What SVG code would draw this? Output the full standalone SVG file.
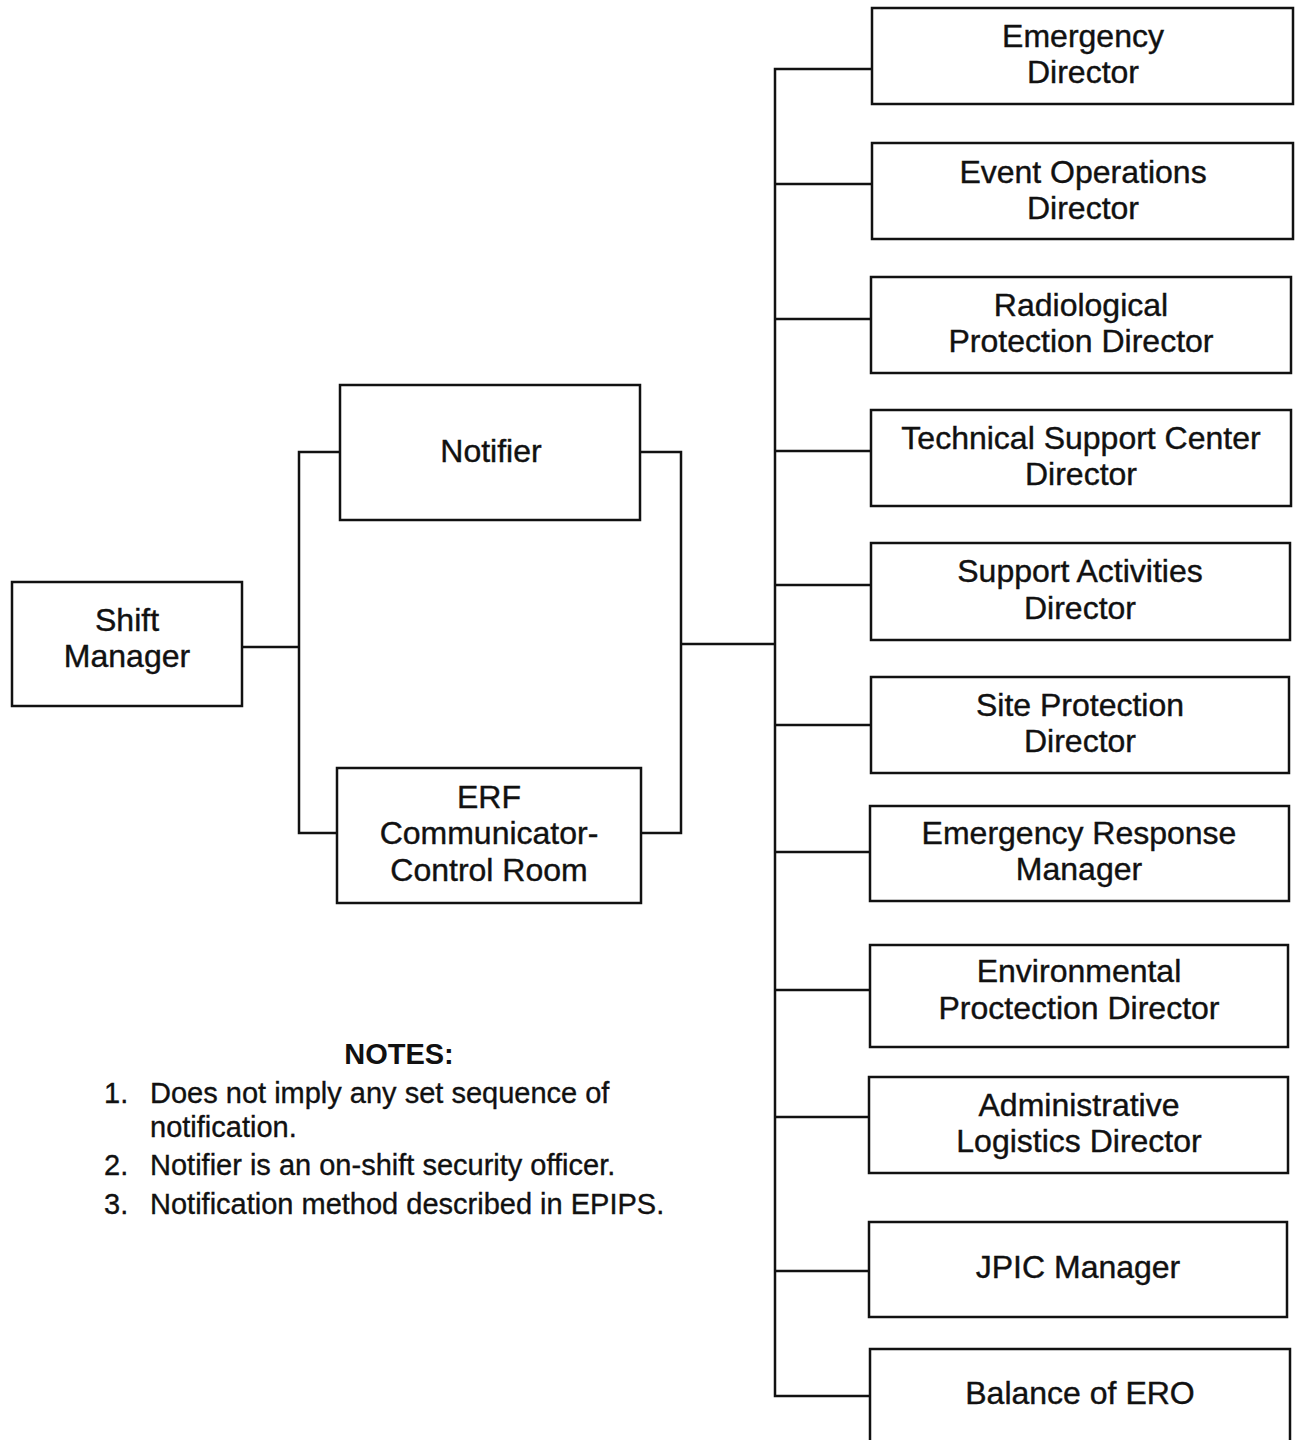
<svg xmlns="http://www.w3.org/2000/svg" width="1296" height="1440" viewBox="0 0 1296 1440">
  <style>
    .box { fill: #ffffff; stroke: #111111; stroke-width: 2.5; }
    .wire { fill: none; stroke: #111111; stroke-width: 2.5; }
    .lbl { font-family: "Liberation Sans", Arial, sans-serif; font-size: 32px; fill: #111111; stroke: #111111; stroke-width: 0.4; text-anchor: middle; }
    .note { font-family: "Liberation Sans", Arial, sans-serif; font-size: 29px; fill: #111111; stroke: #111111; stroke-width: 0.35; }
    .head { font-family: "Liberation Sans", Arial, sans-serif; font-size: 29px; font-weight: bold; fill: #111111; text-anchor: middle; }
  </style>
  <rect width="1296" height="1440" fill="#ffffff"/>

  <!-- connectors -->
  <g id="connectors">
    <path class="wire" d="M242 647 H299"/>
    <path class="wire" d="M340 452 H299 V833 H337"/>
    <path class="wire" d="M640 452 H681 V833 H641"/>
    <path class="wire" d="M681 644 H775"/>
    <path class="wire" d="M872 69 H775 V1396 H870"/>
    <path class="wire" d="M775 184 H872"/>
    <path class="wire" d="M775 319 H871"/>
    <path class="wire" d="M775 451 H871"/>
    <path class="wire" d="M775 585 H871"/>
    <path class="wire" d="M775 725 H871"/>
    <path class="wire" d="M775 852 H870"/>
    <path class="wire" d="M775 990 H870"/>
    <path class="wire" d="M775 1117 H869"/>
    <path class="wire" d="M775 1271 H869"/>
  </g>

  <g id="shift-manager">
    <rect class="box" x="12" y="582" width="230" height="124"/>
    <text class="lbl" x="127" y="631">Shift</text>
    <text class="lbl" x="127" y="667">Manager</text>
  </g>

  <g id="notifier">
    <rect class="box" x="340" y="385" width="300" height="135"/>
    <text class="lbl" x="491" y="462">Notifier</text>
  </g>

  <g id="erf-communicator">
    <rect class="box" x="337" y="768" width="304" height="135"/>
    <text class="lbl" x="489" y="808">ERF</text>
    <text class="lbl" x="489" y="844">Communicator-</text>
    <text class="lbl" x="489" y="881">Control Room</text>
  </g>

  <g id="emergency-director">
    <rect class="box" x="872" y="8" width="421" height="96"/>
    <text class="lbl" x="1083" y="47">Emergency</text>
    <text class="lbl" x="1083" y="83">Director</text>
  </g>

  <g id="event-operations-director">
    <rect class="box" x="872" y="143" width="421" height="96"/>
    <text class="lbl" x="1083" y="183">Event Operations</text>
    <text class="lbl" x="1083" y="219">Director</text>
  </g>

  <g id="radiological-protection-director">
    <rect class="box" x="871" y="277" width="420" height="96"/>
    <text class="lbl" x="1081" y="316">Radiological</text>
    <text class="lbl" x="1081" y="352">Protection Director</text>
  </g>

  <g id="tsc-director">
    <rect class="box" x="871" y="410" width="420" height="96"/>
    <text class="lbl" x="1081" y="449">Technical Support Center</text>
    <text class="lbl" x="1081" y="485">Director</text>
  </g>

  <g id="support-activities-director">
    <rect class="box" x="871" y="543" width="419" height="97"/>
    <text class="lbl" x="1080" y="582">Support Activities</text>
    <text class="lbl" x="1080" y="619">Director</text>
  </g>

  <g id="site-protection-director">
    <rect class="box" x="871" y="677" width="418" height="96"/>
    <text class="lbl" x="1080" y="716">Site Protection</text>
    <text class="lbl" x="1080" y="752">Director</text>
  </g>

  <g id="emergency-response-manager">
    <rect class="box" x="870" y="806" width="419" height="95"/>
    <text class="lbl" x="1079" y="844">Emergency Response</text>
    <text class="lbl" x="1079" y="880">Manager</text>
  </g>

  <g id="environmental-protection-director">
    <rect class="box" x="870" y="945" width="418" height="102"/>
    <text class="lbl" x="1079" y="982">Environmental</text>
    <text class="lbl" x="1079" y="1019">Proctection Director</text>
  </g>

  <g id="administrative-logistics-director">
    <rect class="box" x="869" y="1077" width="419" height="96"/>
    <text class="lbl" x="1079" y="1116">Administrative</text>
    <text class="lbl" x="1079" y="1152">Logistics Director</text>
  </g>

  <g id="jpic-manager">
    <rect class="box" x="869" y="1222" width="418" height="95"/>
    <text class="lbl" x="1078" y="1278">JPIC Manager</text>
  </g>

  <g id="balance-of-ero">
    <rect class="box" x="870" y="1349" width="420" height="110"/>
    <text class="lbl" x="1080" y="1404">Balance of ERO</text>
  </g>

  <g id="notes">
    <text class="head" x="399" y="1064">NOTES:</text>
    <text class="note" x="104" y="1103">1.</text>
    <text class="note" x="150" y="1103">Does not imply any set sequence of</text>
    <text class="note" x="150" y="1137">notification.</text>
    <text class="note" x="104" y="1175">2.</text>
    <text class="note" x="150" y="1175">Notifier is an on-shift security officer.</text>
    <text class="note" x="104" y="1214">3.</text>
    <text class="note" x="150" y="1214">Notification method described in EPIPS.</text>
  </g>
</svg>
